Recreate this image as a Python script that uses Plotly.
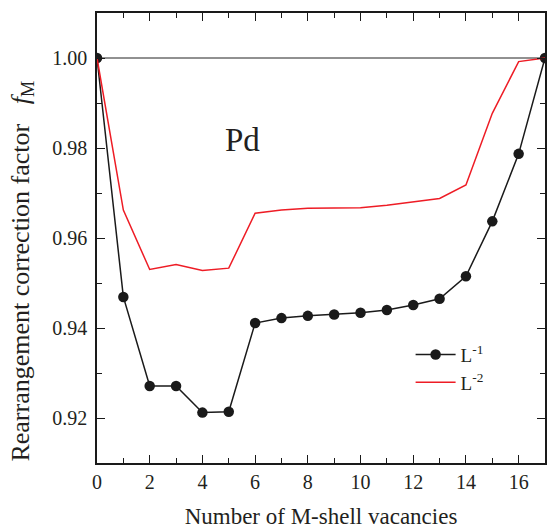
import plotly.graph_objects as go

vacancies = list(range(0, 18))
f_L1 = [1.000, 0.9469, 0.9271, 0.9271, 0.9212, 0.9214, 0.9411, 0.9422, 0.9427,
        0.9430, 0.9434, 0.9440, 0.9451, 0.9465, 0.9515, 0.9637, 0.9787, 1.000]
f_L2 = [1.000, 0.9662, 0.9530, 0.9541, 0.9528, 0.9533, 0.9655, 0.9662, 0.9666,
        0.9667, 0.9667, 0.9673, 0.9681, 0.9688, 0.9718, 0.9877, 0.9992, 1.000]
x_ticks = [0, 2, 4, 6, 8, 10, 12, 14, 16]
y_ticks = [0.92, 0.94, 0.96, 0.98, 1.00]

font_family = "Liberation Serif, Times New Roman, serif"
txt = "#231f20"

fig = go.Figure()
fig.add_trace(go.Scatter(x=vacancies, y=f_L1, mode="lines+markers", name="L<sup>-1</sup>",
                         line=dict(color="#1a1a1a", width=1.5),
                         marker=dict(color="#1a1a1a", size=10.5)))
fig.add_trace(go.Scatter(x=vacancies, y=f_L2, mode="lines", name="L<sup>-2</sup>",
                         line=dict(color="#ee1c25", width=1.5)))

fig.add_shape(type="line", xref="paper", x0=0, x1=1, yref="y", y0=1.0, y1=1.0,
              line=dict(color="#222222", width=1), layer="below")

fig.add_annotation(x=5.53, y=0.9818, xref="x", yref="y", text="Pd", showarrow=False,
                   font=dict(family=font_family, size=33, color=txt))

# y-axis title (placed as rotated annotation to match its offset position)
fig.add_annotation(x=-0.168, y=0.427, xref="paper", yref="paper", textangle=-90,
                   xanchor="center", yanchor="middle", showarrow=False,
                   text="Rearrangement correction factor   <i>f</i><sub>M</sub>",
                   font=dict(family=font_family, size=26, color=txt))

axis_common = dict(showline=True, linecolor="#1a1a1a", linewidth=1.5, mirror="ticks",
                   ticks="inside", ticklen=8, tickwidth=1.3, tickcolor="#1a1a1a",
                   showgrid=False, zeroline=False,
                   tickfont=dict(family=font_family, size=20, color=txt))

fig.update_layout(
    width=547, height=531,
    margin=dict(l=97, r=0, t=13, b=68),
    paper_bgcolor="white", plot_bgcolor="white",
    showlegend=True,
    legend=dict(x=0.70, y=0.283, xanchor="left", yanchor="top",
                bgcolor="rgba(0,0,0,0)", font=dict(family=font_family, size=19, color=txt),
                tracegroupgap=0, itemwidth=40),
    xaxis=dict(range=[0, 17], tickvals=x_ticks,
               minor=dict(dtick=1, ticks="inside", ticklen=5, tickwidth=1.2, tickcolor="#1a1a1a"),
               title=dict(text="Number of M-shell vacancies", standoff=16,
                          font=dict(family=font_family, size=23, color=txt)),
               **axis_common),
    yaxis=dict(range=[0.91, 1.01], tickvals=y_ticks, tickformat=".2f", ticklabelstandoff=4,
               minor=dict(dtick=0.01, tick0=0.91, ticks="inside", ticklen=5, tickwidth=1.2, tickcolor="#1a1a1a"),
               **axis_common),
)

fig.write_html("out.html")
